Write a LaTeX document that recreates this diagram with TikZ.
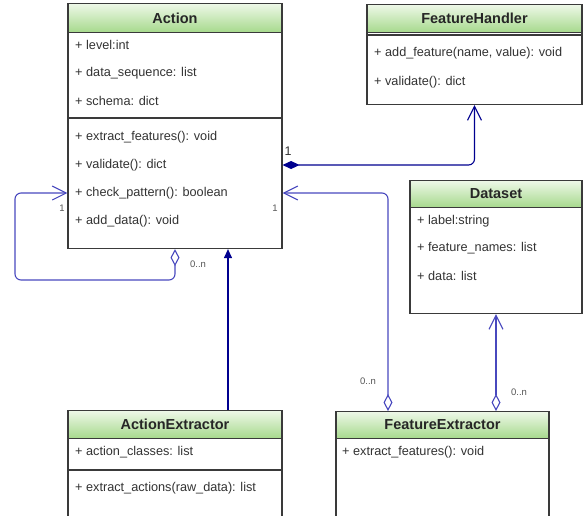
\documentclass[tikz,border=0pt]{standalone}
\usepackage{fontspec}
\setmainfont{Liberation Sans}
\usetikzlibrary{arrows.meta}
\definecolor{hdtop}{HTML}{EEF8E8}
\definecolor{hdbot}{HTML}{A6D98C}
\definecolor{boxline}{HTML}{3A3A3A}
\definecolor{navy}{HTML}{00008F}
\definecolor{aggblue}{HTML}{4848BE}
\definecolor{txt}{HTML}{333333}
\definecolor{multtxt}{HTML}{555555}
\tikzset{
  classhead/.style={draw=boxline, line width=1.1pt, top color=hdtop, bottom color=hdbot,
    inner sep=0pt, font=\fontsize{14.5}{16}\selectfont\bfseries, text=black!85},
  classbody/.style={draw=boxline, line width=1.1pt, fill=white, inner sep=0pt},
  divider/.style={draw=boxline, line width=1.1pt},
  member/.style={anchor=west, inner sep=0pt, font=\fontsize{12.7}{14}\selectfont, text=txt},
  mult/.style={inner sep=0pt, font=\fontsize{9.5}{11}\selectfont, text=multtxt},
  bigmult/.style={inner sep=0pt, font=\fontsize{12.5}{14}\selectfont, text=txt},
  comp/.style={draw=navy, line width=1.1pt, rounded corners=6pt,
    arrows={Diamond[length=17pt,width=8pt]-Straight Barb[length=14pt,width=14pt]}},
  agg/.style={draw=aggblue, line width=1.1pt, rounded corners=6pt,
    arrows={Diamond[fill=white,length=17pt,width=9pt]-Straight Barb[length=14pt,width=14pt]}},
  inh/.style={draw=navy, line width=1.1pt, arrows={-Triangle[length=9pt,width=8pt]}}
}
\begin{document}
\begin{tikzpicture}[x=1pt,y=-1pt]
\useasboundingbox (0,0) rectangle (584,515);
\clip (0,0) rectangle (584,515);

% Action
\node[classbody, minimum width=214pt, minimum height=216pt, anchor=north] (actbody) at (175,32) {};
\node[classhead, minimum width=214pt, minimum height=29pt, anchor=north] (acthead) at (175,3) {Action};
\draw[divider] (actbody.west |- 0,118) -- (actbody.east |- 0,118);
\node[member] (a1) at (75,45) {+ level:int};
\node[member] (a2) at (75,73) {+ data\_sequence: list};
\node[member] (a3) at (75,101) {+ schema: dict};
\node[member] (a4) at (75,137) {+ extract\_features(): void};
\node[member] (a5) at (75,165) {+ validate(): dict};
\node[member] (a6) at (75,193) {+ check\_pattern(): boolean};
\node[member] (a7) at (75,221) {+ add\_data(): void};

% FeatureHandler
\node[classbody, minimum width=215pt, minimum height=72pt, anchor=north] (fhbody) at (474.5,32) {};
\node[classhead, minimum width=215pt, minimum height=28pt, anchor=north] (fhhead) at (474.5,4) {FeatureHandler};
\draw[divider] (fhbody.west |- 0,35) -- (fhbody.east |- 0,35);
\node[member] (f1) at (374,53) {+ add\_feature(name, value): void};
\node[member] (f2) at (374,82) {+ validate(): dict};

% Dataset
\node[classbody, minimum width=172pt, minimum height=106pt, anchor=north] (dsbody) at (496,207) {};
\node[classhead, minimum width=172pt, minimum height=27pt, anchor=north] (dshead) at (496,180) {Dataset};
\node[member] (d1) at (417,221) {+ label:string};
\node[member] (d2) at (417,248) {+ feature\_names: list};
\node[member] (d3) at (417,276) {+ data: list};

% ActionExtractor
\node[classbody, minimum width=214pt, minimum height=92pt, anchor=north] (aebody) at (175,438) {};
\node[classhead, minimum width=214pt, minimum height=28pt, anchor=north] (aehead) at (175,410) {ActionExtractor};
\draw[divider] (aebody.west |- 0,470) -- (aebody.east |- 0,470);
\node[member] (e1) at (75,452) {+ action\_classes: list};
\node[member] (e2) at (75,488) {+ extract\_actions(raw\_data): list};

% FeatureExtractor
\node[classbody, minimum width=213pt, minimum height=92pt, anchor=north] (febody) at (442.5,438) {};
\node[classhead, minimum width=213pt, minimum height=27pt, anchor=north] (fehead) at (442.5,411) {FeatureExtractor};
\node[member] (x1) at (342,452) {+ extract\_features(): void};

% connectors
\coordinate (loopcorner) at (15,280);
\coordinate (inhx) at (228,0);
\coordinate (fex) at (388,0);

\draw[comp] (actbody.east |- a5) -| (fhbody.south);
\draw[agg] (actbody.south) |- (loopcorner) |- (actbody.west |- a6);
\draw[inh] (aehead.north -| inhx) -- (actbody.south -| inhx);
\draw[agg] (fehead.north -| fex) |- (actbody.east |- a6);
\draw[agg] (fehead.north -| dsbody.south) -- (dsbody.south);

% multiplicities
\node[bigmult] (m1) at (288,151) {1};
\node[mult] (m2) at (62,208) {1};
\node[mult] (m3) at (275,208) {1};
\node[mult] (m4) at (198,264) {0..n};
\node[mult] (m5) at (368,381) {0..n};
\node[mult] (m6) at (519,392) {0..n};
\end{tikzpicture}
\end{document}
